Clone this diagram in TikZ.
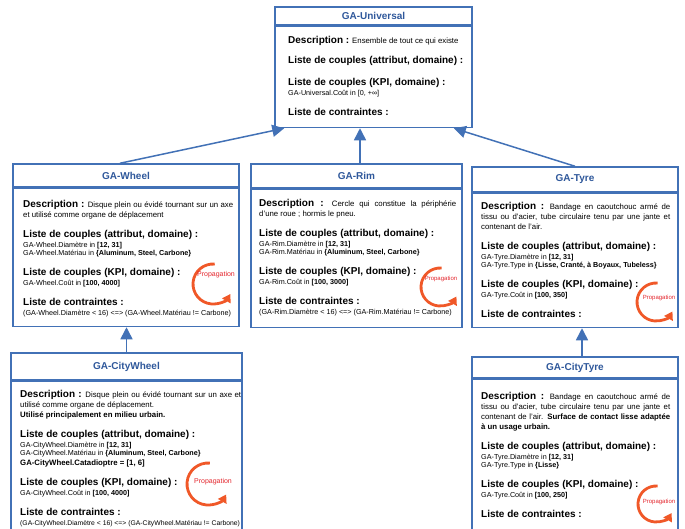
\documentclass[tikz,border=0pt]{standalone}
\usepackage{fontspec}
\setmainfont{Liberation Sans}
\usetikzlibrary{positioning, arrows.meta}
\definecolor{gablue}{RGB}{66,113,182}
\definecolor{gatxt}{RGB}{47,88,155}
\definecolor{proporange}{RGB}{240,88,40}
\definecolor{propred}{RGB}{228,38,45}
\newcommand{\bt}[1]{{\fontsize{10}{12}\selectfont\bfseries #1}}
\newcommand{\hd}[1]{\par\vspace{8pt}{\fontsize{10}{12}\selectfont\bfseries #1\par}\vspace{2pt}}
\newcommand{\ds}{\fontsize{7.8}{10}\selectfont}
\newcommand{\sm}{\fontsize{7.2}{8}\selectfont}

\begin{document}
\begin{tikzpicture}[x=1pt, y=1pt,
    gaclass/.style={draw=gablue, line width=1.5pt, fill=white, inner sep=0pt},
    gatitle/.style={gaclass, text=gatxt, font=\bfseries\fontsize{10}{12}\selectfont},
    gatext/.style={anchor=north west, inner sep=0pt, align=justify},
    inherit/.style={draw=gablue, line width=1.5pt, -{Triangle[length=12pt, width=12pt]}},
    propag/.style={draw=proporange, line width=2.8pt, -{Triangle[length=8pt, width=9.5pt]}},
    proptext/.style={text=propred, inner sep=0pt}]
    \useasboundingbox (0,-528) rectangle (685,0);
    \clip (0,-528) rectangle (685,0);

    % GA-Universal
    \node[gatitle, minimum width=197pt, minimum height=18pt] (uni) at (373.5,-16) {GA-Universal};
    \node[gaclass, minimum width=197pt, minimum height=101pt, below=0pt of uni] (unib) {};
    \node[gatext, text width=180pt] (unit) at (288,-36.2) {%
        {\ds\bt{Description :} Ensemble de tout ce qui existe\par}
        \hd{Liste de couples (attribut, domaine) :}
        \hd{Liste de couples (KPI, domaine) :}
        {\sm GA-Universal.Coût in [0, +∞]\par}
        \hd{Liste de contraintes :}};

    % GA-Wheel
    \node[gatitle, minimum width=226pt, minimum height=23pt] (wheel) at (126,-175.5) {GA-Wheel};
    \node[gaclass, minimum width=226pt, minimum height=138pt, below=0pt of wheel] (wheelb) {};
    \node[gatext, text width=210pt] (wheelt) at (23,-200.2) {%
        {\ds\bt{Description :} Disque plein ou évidé tournant sur un axe\linebreak et utilisé comme organe de déplacement\par}
        \hd{Liste de couples (attribut, domaine) :}
        {\sm GA-Wheel.Diamètre in \textbf{[12, 31]}\\ GA-Wheel.Matériau in \textbf{\{Aluminum, Steel, Carbone\}}\par}
        \hd{Liste de couples (KPI, domaine) :}
        {\sm GA-Wheel.Coût in \textbf{[100, 4000]}\par}
        \hd{Liste de contraintes :}
        {\sm (GA-Wheel.Diamètre < 16) <=> (GA-Wheel.Matériau != Carbone)\par}};

    % GA-Rim
    \node[gatitle, minimum width=211pt, minimum height=24pt] (rim) at (356.5,-176) {GA-Rim};
    \node[gaclass, minimum width=211pt, minimum height=138pt, below=0pt of rim] (rimb) {};
    \node[gatext, text width=197pt] (rimt) at (259,-199.2) {%
        {\ds\bt{Description :} Cercle qui constitue la périphérie\linebreak d'une roue ; hormis le pneu.\par}
        \hd{Liste de couples (attribut, domaine) :}
        {\sm GA-Rim.Diamètre in \textbf{[12, 31]}\\ GA-Rim.Matériau in \textbf{\{Aluminum, Steel, Carbone\}}\par}
        \hd{Liste de couples (KPI, domaine) :}
        {\sm GA-Rim.Coût in \textbf{[100, 3000]}\par}
        \hd{Liste de contraintes :}
        {\sm (GA-Rim.Diamètre < 16) <=> (GA-Rim.Matériau != Carbone)\par}};

    % GA-Tyre
    \node[gatitle, minimum width=206pt, minimum height=25pt] (tyre) at (575,-179.5) {GA-Tyre};
    \node[gaclass, minimum width=206pt, minimum height=134pt, below=0pt of tyre] (tyreb) {};
    \node[gatext, text width=189pt] (tyret) at (481,-202.2) {%
        {\ds\bt{Description :} Bandage en caoutchouc armé de\linebreak tissu ou d'acier, tube circulaire tenu par une jante et\linebreak contenant de l'air.\par}
        \hd{Liste de couples (attribut, domaine) :}
        {\sm GA-Tyre.Diamètre in \textbf{[12, 31]}\\ GA-Tyre.Type in \textbf{\{Lisse, Cranté, à Boyaux, Tubeless\}}\par}
        \hd{Liste de couples (KPI, domaine) :}
        {\sm GA-Tyre.Coût in \textbf{[100, 350]}\par}
        \hd{Liste de contraintes :}};

    % GA-CityWheel
    \node[gatitle, minimum width=231pt, minimum height=27pt] (cwheel) at (126.5,-366.5) {GA-CityWheel};
    \node[gaclass, minimum width=231pt, minimum height=170pt, below=0pt of cwheel] (cwheelb) {};
    \node[gatext, text width=221pt] (cwheelt) at (20,-390.2) {%
        {\ds\bt{Description :} Disque plein ou évidé tournant sur un axe et\linebreak utilisé comme organe de déplacement.\\ \textbf{Utilisé principalement en milieu urbain.}\par}
        \hd{Liste de couples (attribut, domaine) :}
        {\sm GA-CityWheel.Diamètre in \textbf{[12, 31]}\\ GA-CityWheel.Matériau in \textbf{\{Aluminum, Steel, Carbone\}}\\[2pt] {\fontsize{7.8}{8}\selectfont\bfseries GA-CityWheel.Catadioptre = [1, 6]}\par}
        \hd{Liste de couples (KPI, domaine) :}
        {\sm GA-CityWheel.Coût in \textbf{[100, 4000]}\par}
        \hd{Liste de contraintes :}
        {\fontsize{6.8}{8}\selectfont (GA-CityWheel.Diamètre < 16) <=> (GA-CityWheel.Matériau != Carbone)\par}};

    % GA-CityTyre
    \node[gatitle, minimum width=206pt, minimum height=21pt] (ctyre) at (575,-367.5) {GA-CityTyre};
    \node[gaclass, minimum width=206pt, minimum height=170pt, below=0pt of ctyre] (ctyreb) {};
    \node[gatext, text width=189pt] (ctyret) at (481,-392.2) {%
        {\ds\bt{Description :} Bandage en caoutchouc armé de\linebreak tissu ou d'acier, tube circulaire tenu par une jante et\linebreak contenant de l'air. \textbf{Surface de contact lisse adaptée}\linebreak \textbf{à un usage urbain.}\par}
        \hd{Liste de couples (attribut, domaine) :}
        {\sm GA-Tyre.Diamètre in \textbf{[12, 31]}\\ GA-Tyre.Type in \textbf{\{Lisse\}}\par}
        \hd{Liste de couples (KPI, domaine) :}
        {\sm GA-Tyre.Coût in \textbf{[100, 250]}\par}
        \hd{Liste de contraintes :}};

    % heritage
    \draw[inherit] ([xshift=-6pt]wheel.north) -- ([xshift=10pt]unib.south west);
    \draw[inherit] ([xshift=3.5pt]rim.north) -- ([xshift=3.5pt]rim.north |- unib.south);
    \draw[inherit] (tyre.north) -- ([xshift=-19pt]unib.south east);
    \draw[inherit] (cwheel.north) -- (cwheel.north |- wheelb.south);
    \draw[inherit] ([xshift=7pt]ctyre.north) -- ([xshift=7pt]ctyre.north |- tyreb.south);

    % propagation
    \foreach \nm/\cx/\cy/\rad/\tx/\ty/\fsz in {a/213/284/20/216/275/7, b/440/287/19/441/279/6,
        c/656/302/19/659/298/6, d/208/484/21/213/482/7, e/656/504/18/659/502/6}
    {
        \draw[propag] (\cx,-\cy) ++(85:\rad) arc[start angle=85, end angle=330, radius=\rad];
        \node[proptext, font=\fontsize{\fsz}{\fsz}\selectfont] (prop\nm) at (\tx,-\ty) {Propagation};
    }
\end{tikzpicture}
\end{document}
